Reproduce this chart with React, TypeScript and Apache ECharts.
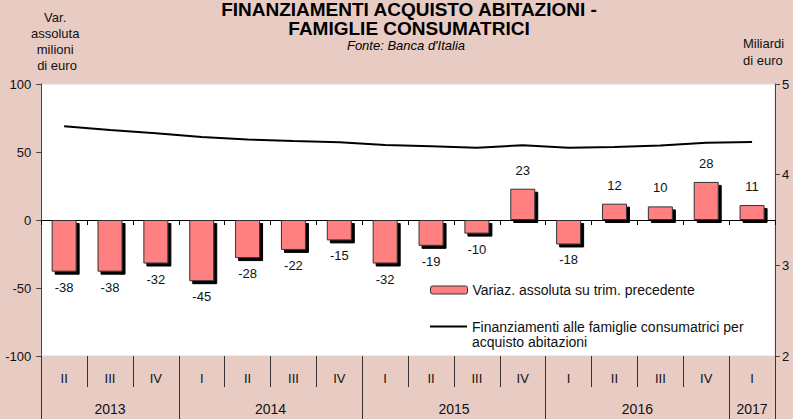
import React, { useEffect, useRef } from "react";
import * as echarts from "echarts";

const quarters = ["II", "III", "IV", "I", "II", "III", "IV", "I", "II", "III", "IV", "I", "II", "III", "IV", "I"];
const years = ["2013", "2014", "2015", "2016", "2017"];
const quartersPerYear = [3, 4, 4, 4, 1];
const variazione = [-38, -38, -32, -45, -28, -22, -15, -32, -19, -10, 23, -18, 12, 10, 28, 11];
const finanziamenti = [4.534, 4.493, 4.456, 4.416, 4.388, 4.372, 4.357, 4.327, 4.313, 4.298, 4.324, 4.298, 4.305, 4.322, 4.353, 4.361];
const leftTicks = { min: -100, max: 100, interval: 50 };
const rightTicks = { min: 2, max: 5, interval: 1 };

const barName = "Variaz. assoluta su trim. precedente";
const lineName = "Finanziamenti alle famiglie consumatrici per\nacquisto abitazioni";

export default function App() {
  const ref = useRef<HTMLDivElement>(null);
  useEffect(() => {
    if (!ref.current) return;
    const chart = echarts.init(ref.current, null, { renderer: "svg" });

    const bounds: number[] = [0];
    const centres: number[] = [];
    let acc = 0;
    quartersPerYear.forEach((q) => {
      centres.push(acc + q / 2);
      acc += q;
      bounds.push(acc);
    });

    const font = "Liberation Sans, Arial, sans-serif";
    const txt = "#111";

    chart.setOption({
      animation: false,
      backgroundColor: "#e8cbc3",
      textStyle: { fontFamily: font },
      title: [
        {
          text: "FINANZIAMENTI ACQUISTO ABITAZIONI -\nFAMIGLIE CONSUMATRICI",
          left: 409,
          top: 0,
          padding: 0,
          textAlign: "center",
          textStyle: { fontSize: 19, fontWeight: "bold", color: "#000", lineHeight: 19, fontFamily: font },
        },
        {
          text: "Fonte: Banca d'Italia",
          left: 406,
          top: 38,
          padding: 0,
          textAlign: "center",
          textStyle: { fontSize: 13, fontStyle: "italic", fontWeight: "normal", color: "#000", lineHeight: 14, fontFamily: font },
        },
        {
          text: "Miliardi\ndi euro",
          left: 743,
          top: 35,
          padding: 0,
          textStyle: { fontSize: 13, fontWeight: "normal", color: txt, lineHeight: 17, fontFamily: font },
        },
      ],
      legend: [
        {
          orient: "vertical",
          left: 430,
          top: 283,
          padding: 0,
          itemWidth: 37,
          itemHeight: 8,
          textStyle: { fontSize: 14, color: txt, fontFamily: font },
          data: [
            {
              name: barName,
              itemStyle: { shadowColor: "transparent", shadowOffsetX: 0, shadowOffsetY: 0, borderColor: "#333", borderWidth: 1 },
            },
          ],
        },
        {
          orient: "vertical",
          left: 430,
          top: 304,
          padding: 0,
          itemWidth: 37,
          itemHeight: 2,
          formatter: (n: string) => "\n" + n,
          textStyle: { fontSize: 14, color: txt, fontFamily: font, lineHeight: 15 },
          data: [{ name: lineName, icon: "rect", itemStyle: { color: "#000" } }],
        },
      ],
      grid: {
        left: 41,
        right: 18,
        top: 84,
        bottom: 63,
        show: true,
        backgroundColor: "#ffffff",
        borderColor: "#d8d8d8",
        borderWidth: 1,
      },
      xAxis: [
        {
          type: "category",
          data: quarters,
          axisLine: { onZero: true, onZeroAxisIndex: 0, lineStyle: { color: "#000", width: 1 } },
          axisTick: { show: true, interval: 0, length: 5, lineStyle: { color: "#000" } },
          axisLabel: { show: false },
          splitLine: { show: false },
        },
        {
          type: "category",
          data: quarters,
          axisLine: { onZero: true, onZeroAxisIndex: 0, show: false },
          axisTick: { show: true, interval: 0, inside: true, length: 5, lineStyle: { color: "#000" } },
          axisLabel: { show: false },
          splitLine: { show: false },
        },
        {
          type: "category",
          data: quarters,
          position: "bottom",
          axisLine: { onZero: false, show: false },
          axisTick: { show: true, interval: 0, length: 31, lineStyle: { color: "#333" } },
          axisLabel: { show: true, interval: 0, margin: 16, fontSize: 13, color: txt, fontFamily: font },
          splitLine: { show: false },
        },
        {
          type: "value",
          min: 0,
          max: quarters.length,
          position: "bottom",
          axisLine: { onZero: false, show: false },
          axisTick: { show: true, customValues: bounds, length: 63, lineStyle: { color: "#333" } },
          axisLabel: {
            show: true,
            customValues: centres,
            margin: 46,
            fontSize: 14,
            color: txt,
            fontFamily: font,
            formatter: (v: number) => {
              const i = centres.findIndex((c) => Math.abs(c - v) < 1e-6);
              return i >= 0 ? years[i] : "";
            },
          },
          splitLine: { show: false },
        },
      ],
      yAxis: [
        {
          type: "value",
          min: leftTicks.min,
          max: leftTicks.max,
          interval: leftTicks.interval,
          position: "left",
          name: "Var.\nassoluta\nmilioni\n di euro",
          nameLocation: "end",
          nameGap: 11,
          nameTextStyle: { align: "center", padding: [0, 0, 0, 28], lineHeight: 16, fontSize: 13, color: txt, fontFamily: font },
          axisLine: { show: true, onZero: false, lineStyle: { color: "#444" } },
          axisTick: { show: true, length: 5, lineStyle: { color: "#444" } },
          axisLabel: { fontSize: 13, color: txt, margin: 10, fontFamily: font },
          splitLine: { show: false },
        },
        {
          type: "value",
          min: rightTicks.min,
          max: rightTicks.max,
          interval: rightTicks.interval,
          position: "right",
          axisLine: { show: true, onZero: false, lineStyle: { color: "#444" } },
          axisTick: { show: true, length: 5, lineStyle: { color: "#444" } },
          axisLabel: { fontSize: 13, color: txt, margin: 7, fontFamily: font },
          splitLine: { show: false },
        },
      ],
      series: [
        {
          name: barName,
          type: "bar",
          xAxisIndex: 0,
          yAxisIndex: 0,
          barWidth: 25,
          data: variazione.map((v) =>
            v < 0
              ? { value: v, label: { position: "bottom", distance: 9 } }
              : { value: v, label: { position: "top", distance: 12 } }
          ),
          itemStyle: {
            color: "#ff8080",
            borderColor: "#333",
            borderWidth: 1,
            shadowColor: "#000",
            shadowBlur: 0,
            shadowOffsetX: 3,
            shadowOffsetY: 3,
          },
          label: { show: true, fontSize: 13, color: txt, fontFamily: font },
          z: 2,
        },
        {
          name: lineName,
          type: "line",
          xAxisIndex: 0,
          yAxisIndex: 1,
          data: finanziamenti,
          symbol: "none",
          showSymbol: false,
          lineStyle: { color: "#000", width: 2 },
          itemStyle: { color: "#000" },
          z: 3,
        },
      ],
    });
    return () => chart.dispose();
  }, []);
  return <div ref={ref} style={{ position: "absolute", left: 0, top: 0, width: 793, height: 419 }} />;
}
